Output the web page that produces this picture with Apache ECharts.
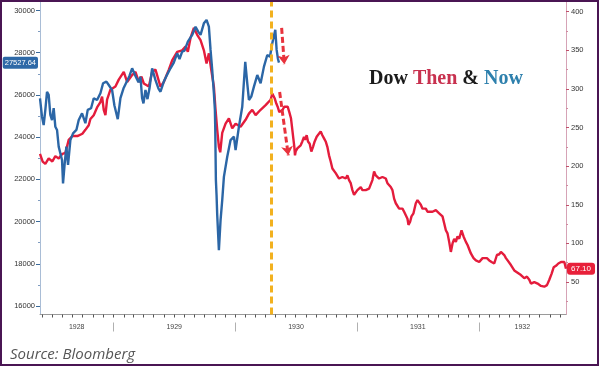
<!DOCTYPE html>
<html><head><meta charset="utf-8">
<script src="https://cdn.jsdelivr.net/npm/echarts@6/dist/echarts.min.js"></script>
<style>html,body{margin:0;padding:0;background:#fff}#c{width:600px;height:367px}</style>
</head><body><div id="c"></div>
<script>
// ---- "Then": Dow Jones 1928-1932 (right axis)
const thenDates = [
'1928-05-26','1928-06-03','1928-06-11','1928-06-21','1928-07-02','1928-07-11','1928-07-21','1928-08-01','1928-08-10','1928-08-20','1928-08-31','1928-09-15','1928-09-30','1928-10-09','1928-10-19','1928-10-24','1928-11-03','1928-11-13','1928-11-23','1928-11-28','1928-12-03','1928-12-08','1928-12-13','1928-12-23',
'1929-01-07','1929-01-17','1929-02-01','1929-02-11','1929-02-26','1929-03-08','1929-03-18','1929-03-26','1929-04-02','1929-04-17','1929-04-27','1929-05-07','1929-05-22','1929-06-01','1929-06-16','1929-06-26','1929-07-11','1929-07-26','1929-08-05','1929-08-12','1929-08-20','1929-08-30','1929-09-09','1929-09-19','1929-09-29','1929-10-07','1929-10-14','1929-10-21','1929-10-29','1929-11-03','1929-11-08','1929-11-13','1929-11-17','1929-11-23','1929-12-03','1929-12-13','1929-12-23',
'1930-01-02','1930-01-17','1930-02-01','1930-02-11','1930-02-21','1930-03-03','1930-03-18','1930-04-02','1930-04-17','1930-04-22','1930-04-29','1930-05-04','1930-05-08','1930-05-13','1930-05-18','1930-05-23','1930-05-28','1930-06-02','1930-06-07','1930-06-12','1930-06-17','1930-06-20','1930-06-24','1930-06-27','1930-06-29','1930-07-01','1930-07-06','1930-07-11','1930-07-16','1930-07-21','1930-07-26','1930-07-29','1930-08-03','1930-08-07','1930-08-12','1930-08-17','1930-08-22','1930-08-27','1930-09-02','1930-09-07','1930-09-14','1930-09-19','1930-09-24','1930-09-29','1930-10-04','1930-10-09','1930-10-14','1930-10-19','1930-10-24','1930-10-29','1930-11-03','1930-11-08','1930-11-13','1930-11-18','1930-11-23','1930-11-28','1930-12-03','1930-12-08','1930-12-13','1930-12-18','1930-12-23','1930-12-28',
'1931-01-02','1931-01-07','1931-01-12','1931-01-17','1931-01-22','1931-01-27','1931-02-01','1931-02-06','1931-02-11','1931-02-16','1931-02-21','1931-02-26','1931-03-03','1931-03-08','1931-03-13','1931-03-18','1931-03-23','1931-03-28','1931-04-02','1931-04-07','1931-04-12','1931-04-17','1931-04-22','1931-04-27','1931-05-02','1931-05-07','1931-05-12','1931-05-17','1931-05-22','1931-05-27','1931-06-01','1931-06-04','1931-06-09','1931-06-13','1931-06-19','1931-06-26','1931-07-01','1931-07-06','1931-07-11','1931-07-16','1931-07-21','1931-07-26','1931-07-31','1931-08-05','1931-08-15','1931-08-25','1931-09-04','1931-09-14','1931-09-19','1931-09-24','1931-09-29','1931-10-04','1931-10-09','1931-10-14','1931-10-19','1931-10-24','1931-10-29','1931-11-03','1931-11-10','1931-11-16','1931-11-23','1931-11-28','1931-12-08','1931-12-16','1931-12-23',
'1932-01-02','1932-01-07','1932-01-12','1932-01-17','1932-01-25','1932-02-01','1932-02-08','1932-02-16','1932-02-24','1932-03-02','1932-03-07','1932-03-12','1932-03-17','1932-03-22','1932-03-27','1932-04-06','1932-04-16','1932-04-26','1932-05-06','1932-05-16','1932-05-24','1932-05-31','1932-06-05','1932-06-15','1932-06-25','1932-07-05','1932-07-15','1932-07-23','1932-07-30','1932-08-06','1932-08-12','1932-08-19','1932-08-26','1932-09-03','1932-09-08','1932-09-13','1932-09-17','1932-09-18'];
const thenValues = [
216,206,203,210,206,213,210,216,217,234,239,239,242,247,253,261,266,276,283,290,273,266,286,299,
303,312,322,309,318,322,309,316,307,303,322,325,303,309,325,337,348,350,355,348,366,379,370,363,350,333,346,325,303,273,247,225,218,243,255,262,249,
255,251,260,268,273,266,273,279,286,294,288,281,277,270,268,273,277,275,277,270,262,251,236,225,214,219,223,221,227,232,238,234,240,232,229,219,225,232,238,240,245,240,236,232,225,214,206,197,195,191,193,184,182,186,188,184,188,182,178,169,163,165,
169,171,173,169,167,169,167,171,173,182,193,188,186,184,184,186,188,184,178,176,173,169,158,152,150,145,147,145,141,139,132,124,128,135,139,152,156,154,150,145,147,145,141,139,141,143,139,135,126,117,113,102,89,100,106,102,109,106,117,109,102,98,87,81,78,
76,74,81,83,81,78,76,74,85,86,89,89,85,81,78,72,65,62,59,55,57,53,48,50,48,45,44,46,53,61,69,71,74,76,78,76,69,67.10];

// ---- "Now": Dow Jones aligned onto the same timeline (left axis)
const nowDates = ['1928-05-26','1928-06-01','1928-06-06','1928-06-11','1928-06-16','1928-06-21','1928-06-26','1928-07-01','1928-07-06','1928-07-11','1928-07-16','1928-07-21','1928-07-26','1928-07-31','1928-08-03','1928-08-08','1928-08-13','1928-08-18','1928-08-25','1928-09-02','1928-09-12','1928-09-19','1928-09-29','1928-10-09','1928-10-16','1928-10-26','1928-11-03','1928-11-13','1928-11-23','1928-12-01','1928-12-11','1928-12-18','1928-12-28',
'1929-01-04','1929-01-14','1929-01-22','1929-01-31','1929-02-09','1929-02-18','1929-02-26','1929-03-08','1929-03-17','1929-03-23','1929-03-28','1929-04-01','1929-04-07','1929-04-13','1929-04-19','1929-04-27','1929-05-07','1929-05-16','1929-05-22','1929-06-01','1929-06-09','1929-06-21','1929-06-30','1929-07-11','1929-07-18','1929-07-26','1929-08-02','1929-08-12','1929-08-25','1929-09-04','1929-09-12','1929-09-19','1929-09-29','1929-10-07','1929-10-14','1929-10-19','1929-10-24','1929-10-29','1929-11-01','1929-11-02','1929-11-04','1929-11-06','1929-11-08','1929-11-13','1929-11-18','1929-11-23','1929-11-28','1929-12-08','1929-12-18','1929-12-28',
'1930-01-02','1930-01-07','1930-01-12','1930-01-22','1930-01-31','1930-02-06','1930-02-11','1930-02-18','1930-02-26','1930-03-08','1930-03-13','1930-03-18','1930-03-28','1930-04-07','1930-04-15','1930-04-22','1930-04-27','1930-05-01','1930-05-05','1930-05-09','1930-05-12'];
const nowValues = [25840,24970,24570,25290,26150,26000,25050,24810,25370,24490,24340,23550,23630,22920,21810,22760,23550,22680,23860,24180,24340,24810,25130,24660,25290,25370,25840,25760,26080,26550,26630,26470,26230,
25500,24850,25850,26300,26600,26900,27260,26900,26600,26860,25840,25600,26230,25800,26300,27260,26700,26300,26150,26630,26900,27260,27500,27970,27700,28050,28100,28520,28840,29230,29000,28840,29390,29550,29230,28130,27180,26080,25290,24490,21970,21260,20310,18650,20070,21020,22120,23070,23860,24020,
23390,23310,24490,25440,27570,26550,25760,25920,26390,26940,27020,26550,27340,27890,27810,28450,28800,29080,28130,27700,27527.64];

// ---- axes, ticks and annotations
const leftTicks = [16000,18000,20000,22000,24000,26000,28000,30000];
const leftMinorTicks = [17000,19000,21000,23000,25000,27000,29000];
const rightTicks = [50,100,150,200,250,300,350,400];
const rightMinorTicks = [25,75,125,175,225,275,325,375];
const yearLabels = ['1928','1929','1930','1931','1932'];
const yearLabelDates = ['1928-09-13','1929-07-02','1930-07-02','1931-07-02','1932-05-10'];
const yearStarts = ['1929-01-01','1930-01-01','1931-01-01','1932-01-01'];
const xMin = '1928-05-26', xMax = '1932-09-18';
const markerDate = '1930-04-20';
const arrowA = [['1930-05-20', 379], ['1930-05-28', 332]];
const arrowB = [['1930-05-14', 296], ['1930-06-09', 214]];

const P = s => { const p = s.split('-').map(Number); return +new Date(p[0], p[1] - 1, p[2]); };
const monthTicks = [];
{
  const a = new Date(P(xMin)); let y = a.getFullYear(), m = a.getMonth() + 1;
  const end = P(xMax);
  while (true) { const t = +new Date(y, m, 1); if (t > end) break; monthTicks.push(t); m++; if (m > 11) { m = 0; y++; } }
}
const yearLabelTs = yearLabelDates.map(P);
const lastNow = nowValues[nowValues.length - 1];
const lastThen = thenValues[thenValues.length - 1];

const axisFont = 'Liberation Sans';
const chart = echarts.init(document.getElementById('c'), null, {renderer: 'canvas'});
chart.setOption({
  animation: false,
  backgroundColor: '#ffffff',
  grid: {left: 40, right: 34, top: 2, bottom: 52.5, containLabel: false},
  title: [
    {text: '{a|Dow} {b|Then} {a|&} {c|Now}', left: 364, top: 64,
     textStyle: {fontFamily: 'Liberation Serif', fontWeight: 'bold', fontSize: 20, color: '#1b1b1b',
       rich: {
         a: {fontFamily: 'Liberation Serif', fontWeight: 'bold', fontSize: 20, color: '#1b1b1b'},
         b: {fontFamily: 'Liberation Serif', fontWeight: 'bold', fontSize: 20, color: '#c8314f'},
         c: {fontFamily: 'Liberation Serif', fontWeight: 'bold', fontSize: 20, color: '#2e80ad'}
       }}},
    {text: 'Source: Bloomberg', left: 5, top: 342,
     textStyle: {fontFamily: 'Open Sans', fontStyle: 'italic', fontWeight: 'normal', fontSize: 15, color: '#555'}}
  ],
  xAxis: [
    {type: 'value', min: P(xMin), max: P(xMax), position: 'bottom', scale: true,
     axisLine: {show: true, lineStyle: {color: '#9a9a9a', width: 1}},
     axisTick: {show: true, customValues: monthTicks, length: 3, lineStyle: {color: '#555'}},
     axisLabel: {show: true, customValues: yearLabelTs, margin: 9, fontSize: 7, color: '#444', fontFamily: axisFont,
       formatter: v => { let best = 0; yearLabelTs.forEach((t, i) => { if (Math.abs(t - v) < Math.abs(yearLabelTs[best] - v)) best = i; }); return yearLabels[best]; }},
     splitLine: {show: false}},
    {type: 'value', min: P(xMin), max: P(xMax), position: 'bottom', offset: 8, scale: true,
     axisLine: {show: false},
     axisTick: {show: true, customValues: yearStarts.map(P), length: 9, lineStyle: {color: '#b0b0b0'}},
     axisLabel: {show: false}, splitLine: {show: false}}
  ],
  yAxis: [
    {type: 'value', position: 'left', min: 15600, max: 30400,
     axisLine: {show: true, lineStyle: {color: '#a9bdd6'}},
     axisTick: {show: true, customValues: leftTicks, length: 4, lineStyle: {color: '#3b6b9b'}},
     axisLabel: {customValues: leftTicks, margin: 5, fontSize: 7.5, color: '#333', fontFamily: axisFont, formatter: v => String(v)},
     splitLine: {show: false},
     axisPointer: {show: true, type: 'line', snap: false, value: lastNow, status: 'show', triggerTooltip: false,
       lineStyle: {width: 0, opacity: 0}, handle: {show: false},
       label: {show: true, formatter: () => lastNow.toFixed(2), backgroundColor: '#2e69a7', color: '#fff',
         fontSize: 7.5, fontFamily: axisFont, padding: [2, 2, 2, 2], margin: 2, borderRadius: 2}}},
    {type: 'value', position: 'right', min: 8, max: 412.5,
     axisLine: {show: true, lineStyle: {color: '#d6a3b6'}},
     axisTick: {show: true, customValues: rightTicks, length: 3, lineStyle: {color: '#c0506a'}},
     axisLabel: {customValues: rightTicks, margin: 5, fontSize: 7.5, color: '#333', fontFamily: axisFont, formatter: v => String(v)},
     splitLine: {show: false},
     axisPointer: {show: true, type: 'line', snap: false, value: lastThen, status: 'show', triggerTooltip: false,
       lineStyle: {width: 0, opacity: 0}, handle: {show: false},
       label: {show: true, formatter: () => lastThen.toFixed(2), backgroundColor: '#e8203a', color: '#fff',
         fontSize: 8, fontFamily: axisFont, padding: [2, 4, 2, 4], margin: 1}}},
    {type: 'value', position: 'left', min: 15600, max: 30400,
     axisLine: {show: false}, axisLabel: {show: false}, splitLine: {show: false},
     axisTick: {show: true, customValues: leftMinorTicks, length: 2, lineStyle: {color: '#7f9cc0'}}},
    {type: 'value', position: 'right', min: 8, max: 412.5,
     axisLine: {show: false}, axisLabel: {show: false}, splitLine: {show: false},
     axisTick: {show: true, customValues: rightMinorTicks, length: 2, lineStyle: {color: '#d08aa0'}}}
  ],
  series: [
    {name: 'Then', type: 'line', xAxisIndex: 0, yAxisIndex: 1, z: 2,
     data: thenDates.map((d, i) => [P(d), thenValues[i]]),
     showSymbol: false, symbol: 'none', lineStyle: {color: '#e41c3c', width: 2.4}, itemStyle: {color: '#e41c3c'},
     markLine: {silent: true, symbol: ['none', 'arrow'], symbolSize: [9, 9], label: {show: false},
       lineStyle: {color: '#e8323c', type: [6, 3], width: 3},
       data: [
         [{coord: [P(arrowA[0][0]), arrowA[0][1]]}, {coord: [P(arrowA[1][0]), arrowA[1][1]]}],
         [{coord: [P(arrowB[0][0]), arrowB[0][1]]}, {coord: [P(arrowB[1][0]), arrowB[1][1]]}]
       ]}},
    {name: 'Now', type: 'line', xAxisIndex: 0, yAxisIndex: 0, z: 3,
     data: nowDates.map((d, i) => [P(d), nowValues[i]]),
     showSymbol: false, symbol: 'none', lineStyle: {color: '#2b66a6', width: 2.4}, itemStyle: {color: '#2b66a6'},
     markLine: {silent: true, symbol: 'none', label: {show: false},
       lineStyle: {color: '#f2b11f', type: [7, 4], width: 3},
       data: [{xAxis: P(markerDate)}]}}
  ],
  graphic: [
    {type: 'rect', silent: true, z: 100, shape: {x: 1, y: 1, width: 597, height: 364},
     style: {fill: 'none', stroke: '#4a1553', lineWidth: 2}}
  ]
});
</script></body></html>
